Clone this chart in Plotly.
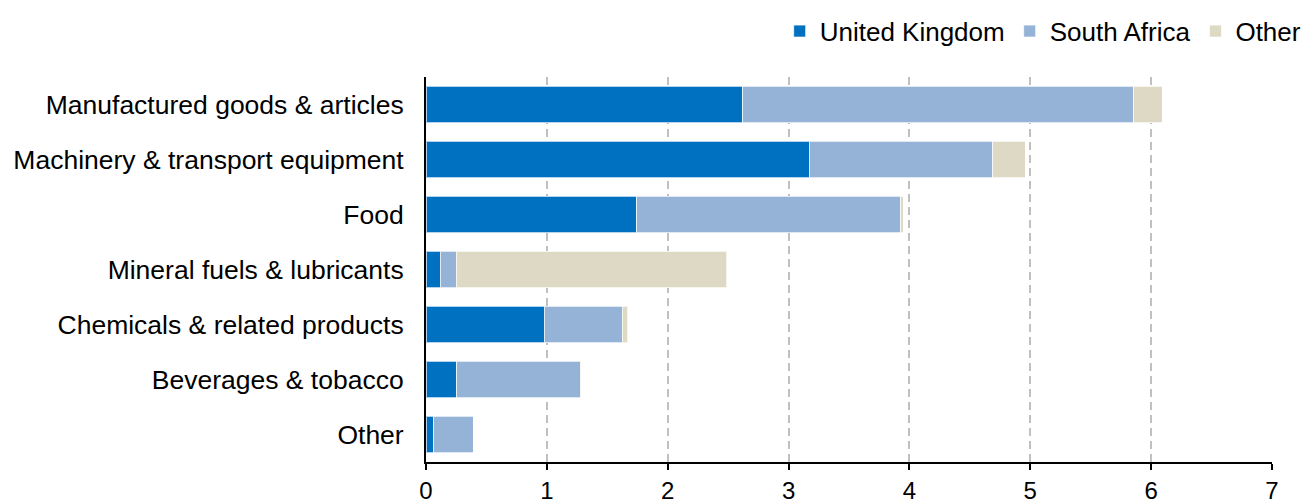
import plotly.graph_objects as go

categories = [
    "Manufactured goods & articles",
    "Machinery & transport equipment",
    "Food",
    "Mineral fuels & lubricants",
    "Chemicals & related products",
    "Beverages & tobacco",
    "Other",
]
united_kingdom = [2.62, 3.17, 1.745, 0.116, 0.979, 0.256, 0.066]
south_africa = [3.235, 1.52, 2.185, 0.134, 0.645, 1.021, 0.326]
other = [0.235, 0.27, 0.02, 2.238, 0.044, 0.005, 0.0]

series = [
    ("United Kingdom", united_kingdom, "#0070C0"),
    ("South Africa", south_africa, "#95B3D7"),
    ("Other", other, "#DDD9C4"),
]

x_ticks = [0, 1, 2, 3, 4, 5, 6, 7]

fig = go.Figure()
for name, vals, color in series:
    fig.add_trace(go.Bar(
        y=categories, x=vals, name=name, orientation="h",
        marker=dict(color=color, line=dict(color="rgba(255,255,255,0.7)", width=1)),
    ))

font = "Liberation Sans, Arial, sans-serif"
fig.update_layout(
    barmode="stack",
    bargap=0.34,
    width=1304, height=503,
    margin=dict(l=426, r=32, t=77, b=41, autoexpand=False),
    paper_bgcolor="white", plot_bgcolor="white",
    font=dict(family=font, size=24, color="black"),
    legend=dict(
        orientation="h", x=1.041, xanchor="right", y=1.119, yanchor="middle",
        font=dict(size=26, family=font, color="black"),
        traceorder="normal", itemwidth=30, tracegroupgap=0,
    ),
    xaxis=dict(
        range=[0, 7], tickvals=x_ticks, ticktext=[str(t) for t in x_ticks],
        showgrid=True, gridcolor="#C0C0C0", gridwidth=2, griddash="8px,5px",
        showline=True, linecolor="black", linewidth=2,
        ticks="outside", ticklen=6, tickwidth=2, tickcolor="black",
        zeroline=False, tickfont=dict(size=24), automargin=False,
    ),
    yaxis=dict(
        autorange="reversed", showline=True, linecolor="black", linewidth=2,
        showgrid=False, ticks="", ticklabelstandoff=15,
        tickfont=dict(size=26.5), automargin=False,
    ),
)

fig.write_html("out.html")
